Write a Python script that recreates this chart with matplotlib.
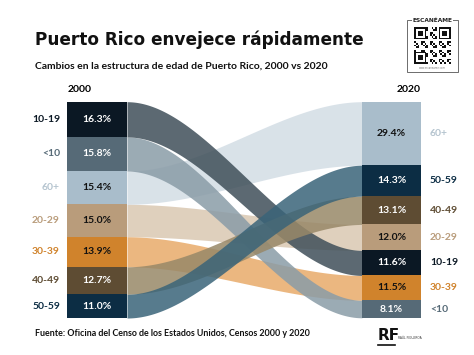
import numpy as np
import matplotlib
matplotlib.use("Agg")
import matplotlib.pyplot as plt

# Datos: participación de cada grupo de edad (%)
categories = ["10-19", "<10", "60+", "20-29", "30-39", "40-49", "50-59"]
share_2000 = [16.3, 15.8, 15.4, 15.0, 13.9, 12.7, 11.0]
share_2020 = [11.6, 8.1, 29.4, 12.0, 11.5, 13.1, 14.3]

bar_colors = {
    "10-19": "#0b1824", "<10": "#566a77", "60+": "#a9bdcb", "20-29": "#b99c7b",
    "30-39": "#d0832c", "40-49": "#5e4c33", "50-59": "#0c2d44",
}
flow_colors = {
    "10-19": "#3f4f59", "<10": "#8a9ca7", "60+": "#d3dde5", "20-29": "#dac8b2",
    "30-39": "#e8ab6a", "40-49": "#988868", "50-59": "#3a6479",
}
label_colors = {
    "10-19": "#0b1824", "<10": "#566a77", "60+": "#b5c4cf", "20-29": "#b99c7b",
    "30-39": "#d0832c", "40-49": "#5e4c33", "50-59": "#0c2d44",
}
dark_text = {"10-19", "<10", "40-49", "50-59"}

W, H = 474, 355
fig = plt.figure(figsize=(W / 100, H / 100), dpi=100)
fig.patch.set_facecolor("white")

# fondo en coordenadas de pixel para textos y adornos
bg = fig.add_axes([0, 0, 1, 1])
bg.set_xlim(0, W)
bg.set_ylim(H, 0)
bg.axis("off")

# area del sankey
x0, x1, y0, y1 = 67, 421, 101.7, 318
ax = fig.add_axes([x0 / W, 1 - y1 / H, (x1 - x0) / W, (y1 - y0) / H])
ax.set_xlim(0, x1 - x0)
ax.set_ylim(max(sum(share_2000), sum(share_2020)), 0)
ax.axis("off")

bw = 60
rx = (x1 - x0) - 59

# posiciones acumuladas
left_top = dict(zip(categories, np.cumsum(share_2000) - np.array(share_2000)))
v2020 = dict(zip(categories, share_2020))
v2000 = dict(zip(categories, share_2000))
order_2020 = sorted(categories, key=lambda c: -v2020[c])
right_top = dict(zip(order_2020, np.cumsum([v2020[c] for c in order_2020]) - np.array([v2020[c] for c in order_2020])))

# flujos
t = np.linspace(0, 1, 200)
s = t * t * (3 - 2 * t)
xs = bw + t * (rx - bw)
draw_order = ["60+", "20-29", "30-39", "<10", "10-19", "40-49", "50-59"]
for c in draw_order:
    lt, lb = left_top[c], left_top[c] + v2000[c]
    rt, rb = right_top[c], right_top[c] + v2020[c]
    ax.fill_between(xs, lt + (rt - lt) * s, lb + (rb - lb) * s,
                    color=flow_colors[c], alpha=0.85, lw=0)

# barras
for c in categories:
    ax.bar(bw / 2, v2000[c], width=bw, bottom=left_top[c], color=bar_colors[c], lw=0)
    ax.bar(rx + 59 / 2, v2020[c], width=59, bottom=right_top[c], color=bar_colors[c], lw=0)
    tc = "white" if c in dark_text else "#111111"
    ax.text(bw / 2, left_top[c] + v2000[c] / 2, f"{v2000[c]:.1f}%", ha="center", va="center",
            fontsize=7.5, color=tc, fontweight="bold", family="Lato")
    ax.text(rx + 59 / 2, right_top[c] + v2020[c] / 2, f"{v2020[c]:.1f}%", ha="center", va="center",
            fontsize=7.5, color=tc, fontweight="bold", family="Lato")
    ax.text(-7, left_top[c] + v2000[c] / 2, c, ha="right", va="center", fontsize=7.5,
            color=label_colors[c], fontweight="bold", family="Lato", clip_on=False)
    ax.text(x1 - x0 + 9, right_top[c] + v2020[c] / 2, c, ha="left", va="center", fontsize=7.5,
            color=label_colors[c], fontweight="bold", family="Lato", clip_on=False)

# titulos
bg.text(35, 40, "Puerto Rico envejece rápidamente", fontsize=12.2, fontweight="bold",
        family="DejaVu Sans", color="#111111", va="center", ha="left")
bg.text(35, 66, "Cambios en la estructura de edad de Puerto Rico, 2000 vs 2020", fontsize=7.45,
        fontweight="bold", family="Lato", color="#111111", va="center", ha="left")
bg.text(68, 89, "2000", fontsize=7.5, fontweight="bold", family="Lato", va="center", ha="left")
bg.text(421, 89, "2020", fontsize=7.5, fontweight="bold", family="Lato", va="center", ha="right")
bg.text(35, 333, "Fuente: Oficina del Censo de los Estados Unidos, Censos 2000 y 2020", fontsize=6.4,
        fontweight="bold", family="Lato", color="#111111", va="center", ha="left")

# recuadro QR (decorativo)
bg.add_patch(plt.Rectangle((407, 19.5), 51, 52, fill=False, ec="#555555", lw=0.6))
bg.text(432.5, 20, "ESCANÉAME", fontsize=4.2, fontweight="bold", family="DejaVu Sans",
        ha="center", va="center", color="#222222",
        bbox=dict(fc="white", ec="none", pad=0.6))
n = 21
cell = 37 / n
qx, qy = 414, 27
for i in range(n):
    for j in range(n):
        on = ((i * 7 + j * 3 + i * j) % 5) < 2
        fin = (i < 7 and j < 7) or (i < 7 and j >= n - 7) or (i >= n - 7 and j < 7)
        if fin:
            a, b = i % (n - 7) if i >= n - 7 else i, j % (n - 7) if j >= n - 7 else j
            on = (a in (0, 6) or b in (0, 6)) or (2 <= a <= 4 and 2 <= b <= 4)
        if on:
            bg.add_patch(plt.Rectangle((qx + j * cell, qy + i * cell), cell, cell, color="#111111", lw=0))
bg.text(432.5, 68, "www.escaneame.com", fontsize=1.8, ha="center", va="center", color="#777777")

# logo RF
bg.text(378, 336, "RF", fontsize=11, fontweight="bold", family="DejaVu Sans", color="#111111",
        va="center", ha="left")
bg.plot([378, 395], [344.5, 344.5], color="#111111", lw=1.2)
bg.text(398, 338, "RAÚL FIGUEROA", fontsize=2.2, color="#333333", va="center", ha="left")

fig.savefig("out.png", dpi=100)
